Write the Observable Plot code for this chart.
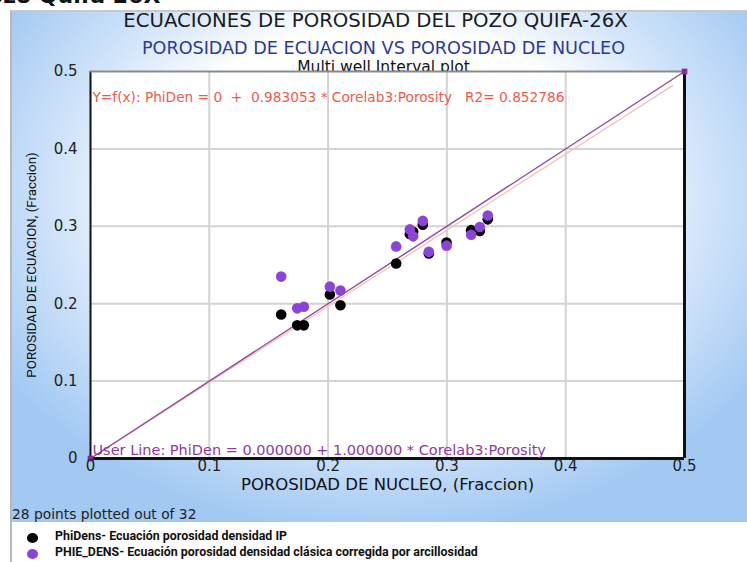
<!DOCTYPE html>
<html>
<head>
<meta charset="utf-8">
<script src="https://cdn.jsdelivr.net/npm/d3@7"></script>
<script src="https://cdn.jsdelivr.net/npm/@observablehq/plot@0.6"></script>
<style>
  html, body { margin: 0; padding: 0; background: #fff; }
  #wrap { position: relative; width: 747px; height: 562px; overflow: hidden; background: #fff; font-family: "DejaVu Sans", sans-serif; }
  #panel { position: absolute; left: 10px; top: 10px; width: 740px; height: 510px;
    border-left: 2px solid #b8b8b8; border-top: 2px solid #c8c8c8;
    background: radial-gradient(ellipse 60% 66% at 50% 36%, #ffffff 50%, #d3e5fa 72%, #a3c9f3 100%); }
  #leftline { position: absolute; left: 10px; top: 520px; width: 2px; height: 42px; background: #b8b8b8; }
  #chart { position: absolute; left: 0; top: 0; }
  .t { position: absolute; white-space: pre; }
  #cut { left: -28px; top: -17px; font: bold 22px "DejaVu Sans"; color: #111; }
  #t1 { left: 0; width: 751px; text-align: center; top: 9px; font-size: 19.7px; color: #1a1a1a; }
  #t2 { left: 0; width: 767px; text-align: center; top: 38px; font-size: 17.6px; color: #2a3a9c; }
  #t3 { left: 0; width: 767px; text-align: center; top: 58px; font-size: 15.5px; color: #111; }
  #count { left: 12px; top: 506px; font-size: 13.8px; color: #222; }
  .leg { position: absolute; left: 55px; font: bold 12.4px Roboto, sans-serif; color: #111; white-space: pre; }
  .ldot { position: absolute; left: 27px; width: 11px; height: 10px; border-radius: 50%; }
</style>
</head>
<body>
<div id="wrap">
  <div id="panel"></div>
  <div id="leftline"></div>
  <div class="t" id="cut"></div>
  <div class="t" id="t1"></div>
  <div class="t" id="t2"></div>
  <div class="t" id="t3"></div>
  <div id="chart"></div>
  <div class="t" id="count"></div>
  <div class="ldot" style="top:533px;background:#000"></div>
  <div class="leg" id="leg1" style="top:528px"></div>
  <div class="ldot" style="top:549px;background:#8a45d8"></div>
  <div class="leg" id="leg2" style="top:544px"></div>
</div>
<script>
// ---- data ----
const corePorosity = [0.1605, 0.174, 0.1796, 0.2015, 0.2104, 0.2573, 0.2688, 0.2716, 0.2797, 0.2848, 0.2997, 0.3204, 0.3277, 0.3344];
const phiDens      = [0.186, 0.172, 0.172, 0.212, 0.198, 0.252, 0.290, 0.293, 0.302, 0.265, 0.279, 0.295, 0.294, 0.309];
const phieDens     = [0.235, 0.194, 0.196, 0.222, 0.217, 0.274, 0.296, 0.287, 0.307, 0.267, 0.275, 0.289, 0.299, 0.314];
const seriesNames  = ["PhiDens- Ecuación porosidad densidad IP", "PHIE_DENS- Ecuación porosidad densidad clásica corregida por arcillosidad"];
const axisTicks    = [0, 0.1, 0.2, 0.3, 0.4, 0.5];
const regIntercept = 0, regSlope = 0.983053, regR2 = 0.852786;
const regXRange    = [0, 0.49];
const userIntercept = 0, userSlope = 1;
const userXRange   = [0, 0.5];
const titleText    = "ECUACIONES DE POROSIDAD DEL POZO QUIFA-26X";
const subtitleText = "POROSIDAD DE ECUACION VS POROSIDAD DE NUCLEO";
const plotTypeText = "Multi well Interval plot";
const xLabel       = "POROSIDAD DE NUCLEO, (Fraccion)";
const yLabel       = "POROSIDAD DE ECUACION, (Fraccion)";
const countText    = "28 points plotted out of 32";
const cutText      = "Pozo Quifa 26X";
const regText      = "Y=f(x): PhiDen = 0\u00a0\u00a0+\u00a0\u00a0" + regSlope.toFixed(6) + " * Corelab3:Porosity\u00a0\u00a0\u00a0R2= " + regR2.toFixed(6);
const userText     = "User Line: PhiDen = " + userIntercept.toFixed(6) + " + " + userSlope.toFixed(6) + " * Corelab3:Porosity";

// ---- derived tables ----
const black = corePorosity.map((x, i) => ({x, y: phiDens[i]}));
const purple = corePorosity.map((x, i) => ({x, y: phieDens[i]}));
const regLine = regXRange.map(x => ({x, y: regIntercept + regSlope * x}));
const userLine = userXRange.map(x => ({x, y: userIntercept + userSlope * x}));
const inner = axisTicks.slice(1, -1);

document.getElementById("t1").textContent = titleText;
document.getElementById("t2").textContent = subtitleText;
document.getElementById("t3").textContent = plotTypeText;
document.getElementById("count").textContent = countText;
document.getElementById("cut").textContent = cutText;
document.getElementById("leg1").textContent = seriesNames[0];
document.getElementById("leg2").textContent = seriesNames[1];

const fmt = d => String(d);
const chart = Plot.plot({
  width: 747, height: 500,
  marginLeft: 90, marginRight: 63, marginTop: 71, marginBottom: 42,
  x: {domain: [0, 0.5]},
  y: {domain: [0, 0.5]},
  style: {background: "transparent", fontFamily: "DejaVu Sans", fontSize: "14px", color: "#222"},
  marks: [
    Plot.frame({fill: "white", stroke: null}),
    Plot.gridX(inner, {stroke: "#d2d2d2", strokeOpacity: 1, strokeWidth: 2}),
    Plot.gridY(inner, {stroke: "#d2d2d2", strokeOpacity: 1, strokeWidth: 2}),
    Plot.line(regLine, {x: "x", y: "y", stroke: "#f6c0b6", strokeWidth: 1.3}),
    Plot.line(userLine, {x: "x", y: "y", stroke: "#8e4a9c", strokeWidth: 1.4}),
    Plot.dot(black, {x: "x", y: "y", r: 5.3, fill: "#000", stroke: null}),
    Plot.dot(purple, {x: "x", y: "y", r: 5.3, fill: "#8a45d8", stroke: null}),
    Plot.ruleX([0], {stroke: "#111", strokeWidth: 2}),
    Plot.ruleX([0.5], {stroke: "#111", strokeWidth: 3}),
    Plot.ruleY([0], {stroke: "#111", strokeWidth: 3}),
    Plot.ruleY([0.5], {stroke: "#8a8a8a", strokeWidth: 2}),
    Plot.dot(userLine, {x: "x", y: "y", symbol: "square", r: 3.2, fill: "#8a2b9c", stroke: null}),
    Plot.axisX(axisTicks, {tickSize: 0, tickPadding: 2, tickFormat: fmt, label: null, fontSize: 15}),
    Plot.axisY(axisTicks, {tickSize: 0, tickPadding: 13, tickFormat: fmt, label: null, fontSize: 15}),
    Plot.text([regText], {frameAnchor: "top-left", text: d => d, dx: 2, dy: 26, lineAnchor: "middle", textAnchor: "start", fill: "#f25a48", fontSize: 13.7}),
    Plot.text([userText], {frameAnchor: "bottom-left", text: d => d, dx: 2, dy: -8, lineAnchor: "middle", textAnchor: "start", fill: "#8e3aa0", fontSize: 14.5}),
    Plot.text([xLabel], {frameAnchor: "bottom", text: d => d, dy: 26, lineAnchor: "middle", fill: "#111", fontSize: 16.5}),
    Plot.text([yLabel], {frameAnchor: "left", text: d => d, dx: -59, rotate: -90, textAnchor: "middle", lineAnchor: "middle", fill: "#111", fontSize: 13.3, fontFamily: "Roboto"})
  ]
});
document.getElementById("chart").appendChild(chart);
</script>
</body>
</html>
